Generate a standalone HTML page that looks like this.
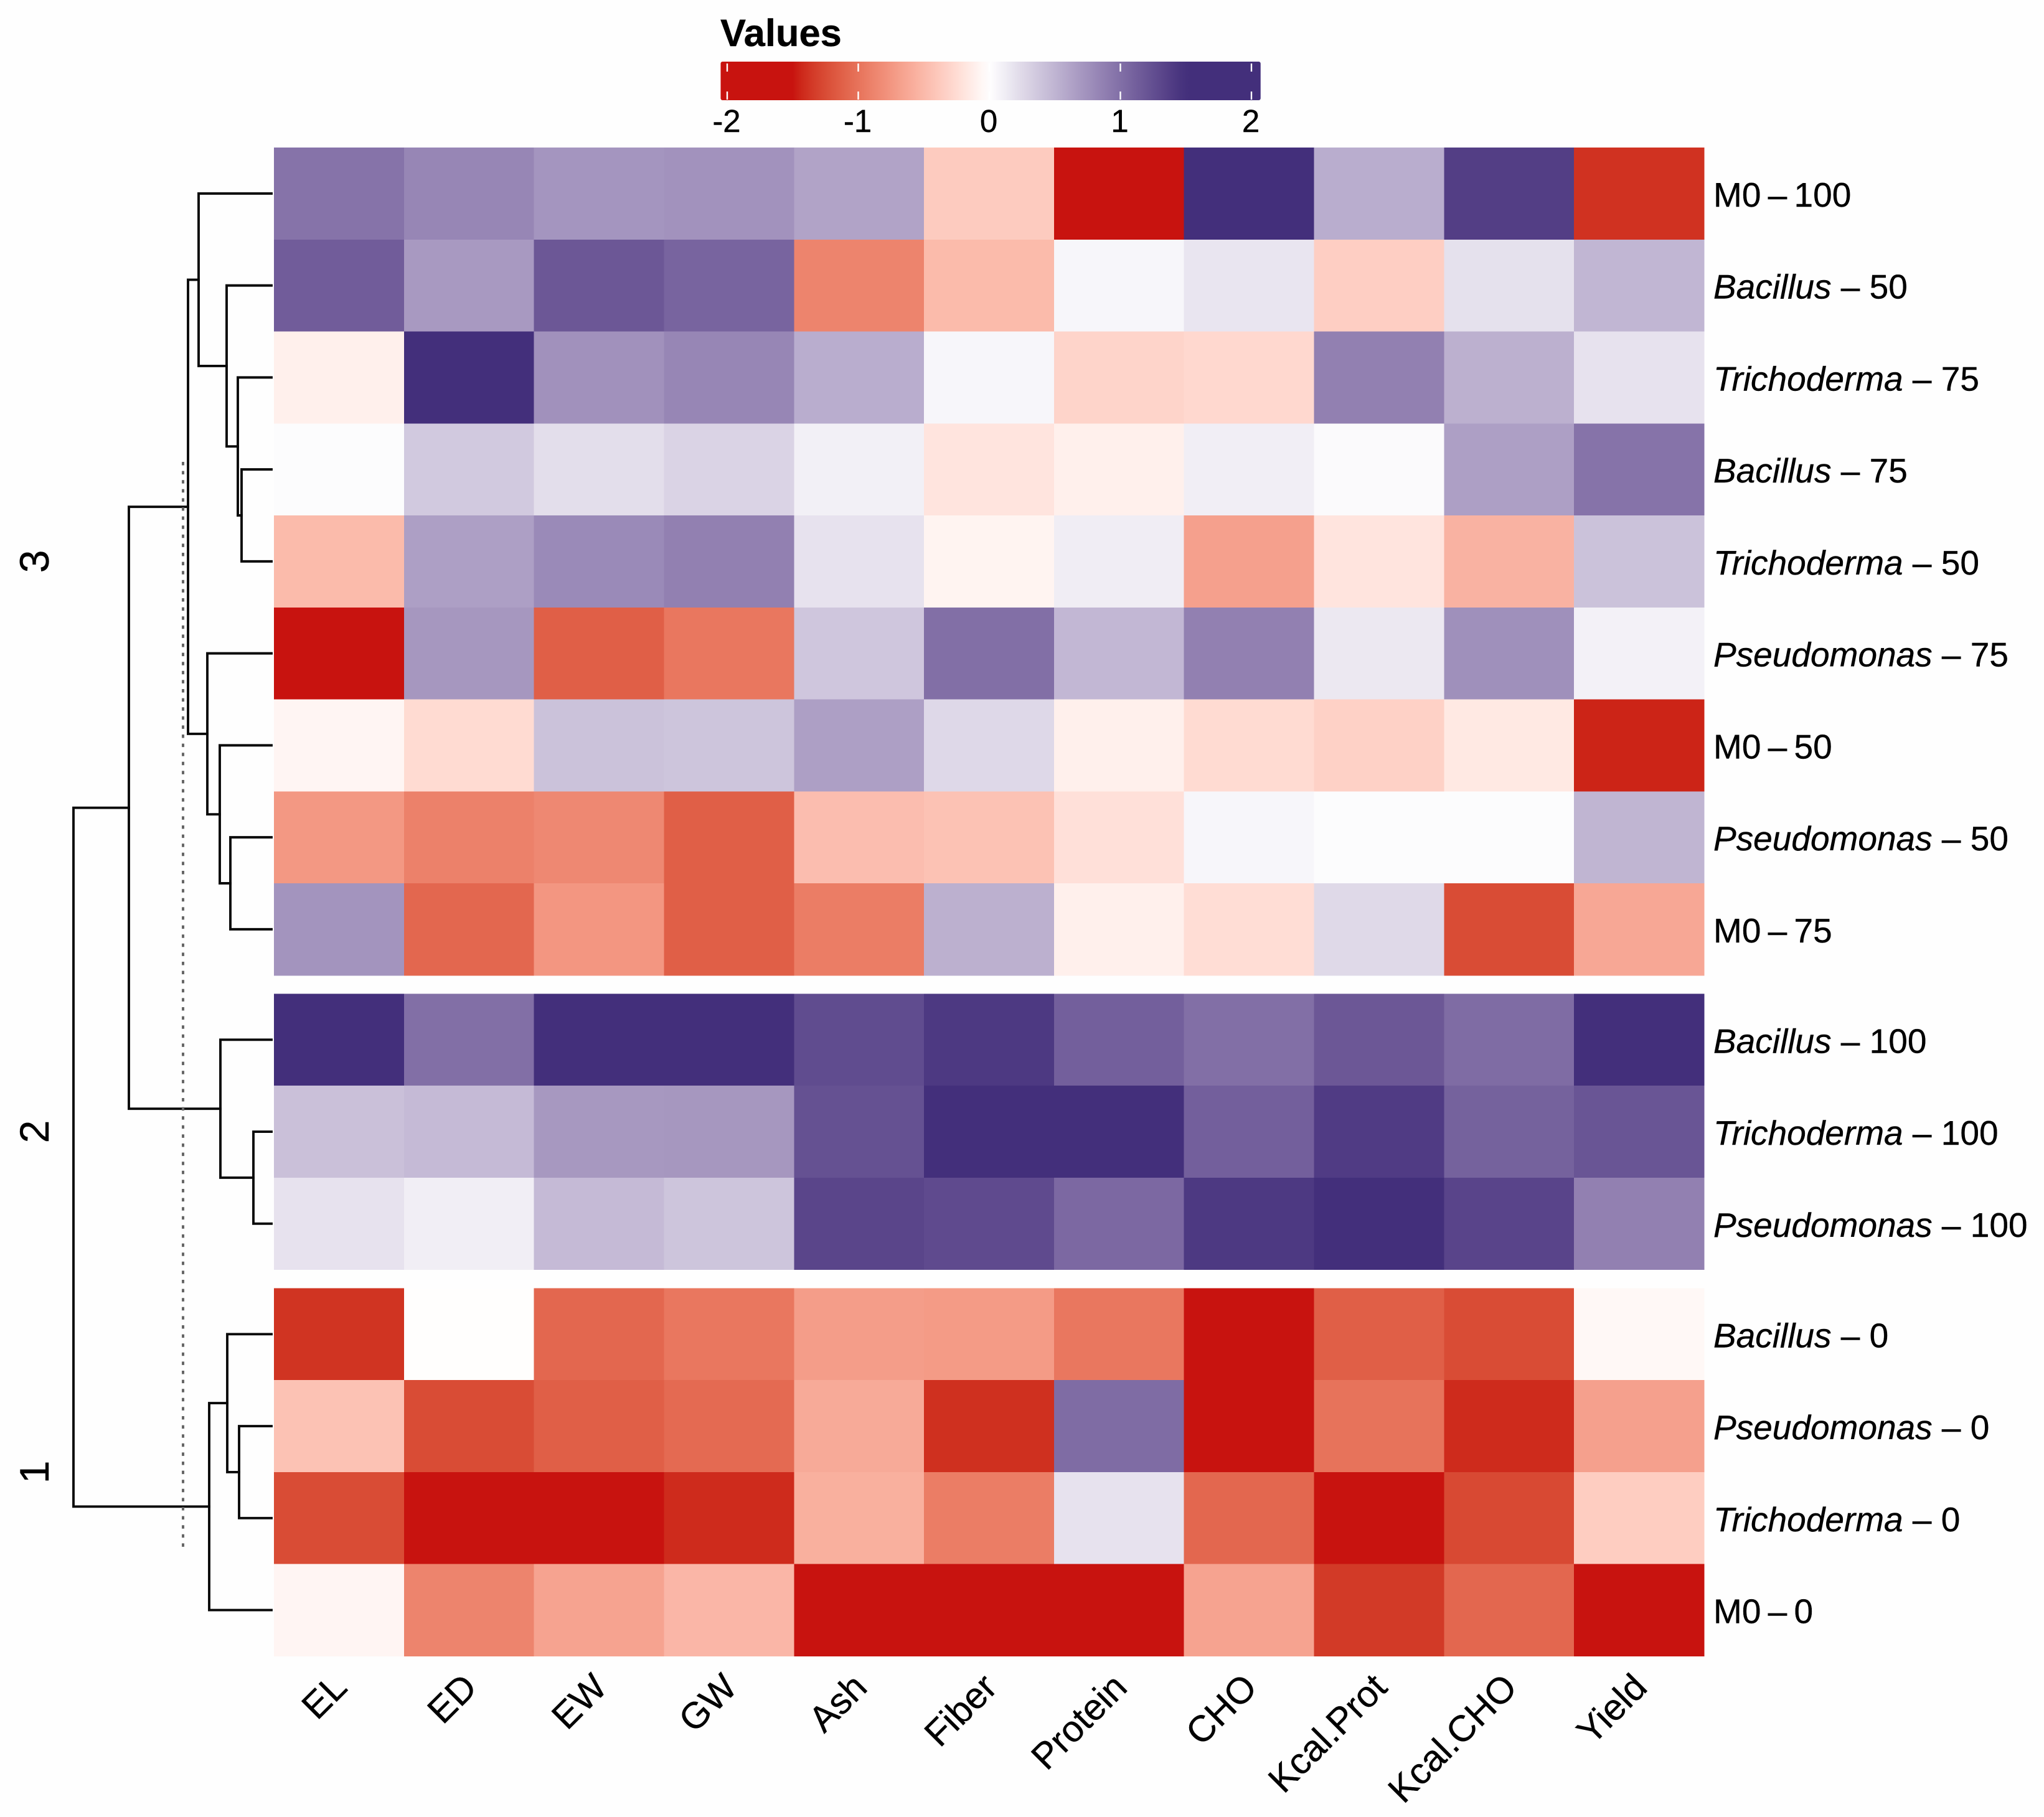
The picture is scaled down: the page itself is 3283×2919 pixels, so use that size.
<!DOCTYPE html>
<html lang="en">
<head>
<meta charset="utf-8">
<title>Clustered heatmap</title>
<style>
html,body{margin:0;padding:0;background:#fefefe;}
svg{display:block;font-family:"Liberation Sans",Arial,sans-serif;}
svg text{stroke:#000;stroke-width:0.4px;}
</style>
</head>
<body>
<svg id="chart" xmlns="http://www.w3.org/2000/svg" width="3283" height="2919" viewBox="0 0 3283 2919"></svg>
<script>
const columnNames = ["EL","ED","EW","GW","Ash","Fiber","Protein","CHO","Kcal.Prot","Kcal.CHO","Yield"];
const rowGenus = ["M0","Bacillus","Trichoderma","Bacillus","Trichoderma","Pseudomonas","M0","Pseudomonas","M0","Bacillus","Trichoderma","Pseudomonas","Bacillus","Pseudomonas","Trichoderma","M0"];
const rowLevel = ["100","50","75","75","50","75","50","50","75","100","100","100","0","0","0","0"];
const groupSizes = [9,3,4];
const groupNames = ["3","2","1"];
const legendTicks = [-2,-1,0,1,2];
const heatValues = [
 [0.97,0.83,0.72,0.74,0.62,-0.37,-1.6,1.7,0.55,1.38,-1.39],
 [1.14,0.69,1.18,1.08,-0.88,-0.49,0.06,0.17,-0.35,0.2,0.49],
 [-0.11,1.6,0.75,0.83,0.55,0.06,-0.31,-0.28,0.87,0.53,0.19],
 [0.02,0.36,0.22,0.29,0.1,-0.19,-0.11,0.11,0.03,0.65,0.97],
 [-0.49,0.65,0.8,0.87,0.19,-0.08,0.12,-0.68,-0.19,-0.55,0.41],
 [-1.5,0.71,-1.13,-0.97,0.38,1.0,0.48,0.87,0.15,0.76,0.09],
 [-0.07,-0.26,0.41,0.39,0.65,0.26,-0.11,-0.26,-0.33,-0.16,-1.45],
 [-0.74,-0.9,-0.85,-1.13,-0.47,-0.44,-0.22,0.06,0.02,0.02,0.5],
 [0.73,-1.08,-0.75,-1.13,-0.93,0.53,-0.11,-0.24,0.25,-1.25,-0.63],
 [1.6,1.0,1.6,1.6,1.27,1.42,1.12,1.0,1.18,1.02,1.6],
 [0.42,0.46,0.7,0.71,1.23,1.6,1.6,1.12,1.4,1.1,1.2],
 [0.19,0.11,0.46,0.39,1.32,1.28,1.05,1.42,1.55,1.33,0.87],
 [-1.38,-0.01,-1.08,-0.97,-0.7,-0.72,-0.97,-1.6,-1.13,-1.25,-0.05],
 [-0.44,-1.25,-1.13,-1.06,-0.61,-1.4,1.02,-1.6,-1.0,-1.42,-0.68],
 [-1.25,-1.6,-1.6,-1.42,-0.57,-0.93,0.19,-1.08,-1.55,-1.27,-0.36],
 [-0.07,-0.88,-0.66,-0.52,-1.6,-1.6,-1.6,-0.66,-1.35,-1.08,-1.55]
];
/* Dendrogram: [merge height, left child, right child]; a number is a row index. */
const dendrogramTree = [6.36,
  [4.58,
    [2.68,
      [2.34, 0, [1.44, 1, [1.08, 2, [0.96, 3, 4]]]],
      [2.06, 5, [1.66, 6, [1.32, 7, 8]]]
    ],
    [1.64, 9, [0.58, 10, 11]]
  ],
  [2.0, [1.42, 12, [1.04, 13, 14]], 15]
];
const cutHeight = [2.84];

const NS = "http://www.w3.org/2000/svg";
const svg = document.getElementById("chart");
function make(tag, attrs, parent) {
  const el = document.createElementNS(NS, tag);
  for (const k in attrs) el.setAttribute(k, attrs[k]);
  (parent || svg).appendChild(el);
  return el;
}

/* colour ramp: -1.5 red, 0 white, 1.5 purple, interpolated in LAB */
function rgb2lab(c) {
  const f = c.map(v => { v /= 255; return v > 0.04045 ? Math.pow((v + 0.055) / 1.055, 2.4) : v / 12.92; });
  const X = (0.4124 * f[0] + 0.3576 * f[1] + 0.1805 * f[2]) / 0.95047;
  const Y = 0.2126 * f[0] + 0.7152 * f[1] + 0.0722 * f[2];
  const Z = (0.0193 * f[0] + 0.1192 * f[1] + 0.9505 * f[2]) / 1.08883;
  const g = t => t > 0.008856 ? Math.cbrt(t) : 7.787 * t + 16 / 116;
  return [116 * g(Y) - 16, 500 * (g(X) - g(Y)), 200 * (g(Y) - g(Z))];
}
function lab2rgb(l) {
  const fy = (l[0] + 16) / 116, fx = l[1] / 500 + fy, fz = fy - l[2] / 200;
  const g = t => t * t * t > 0.008856 ? t * t * t : (t - 16 / 116) / 7.787;
  const X = g(fx) * 0.95047, Y = g(fy), Z = g(fz) * 1.08883;
  const lin = [3.2406 * X - 1.5372 * Y - 0.4986 * Z, -0.9689 * X + 1.8758 * Y + 0.0415 * Z, 0.0557 * X - 0.204 * Y + 1.057 * Z];
  return lin.map(v => {
    v = v > 0.0031308 ? 1.055 * Math.pow(v, 1 / 2.4) - 0.055 : 12.92 * v;
    return Math.round(Math.min(1, Math.max(0, v)) * 255);
  });
}
const LAB_RED = rgb2lab([200, 19, 15]), LAB_WHITE = rgb2lab([255, 255, 255]), LAB_PURPLE = rgb2lab([67, 47, 123]);
function colorOf(v) {
  const t = Math.min(1, Math.abs(v) / 1.5), end = v < 0 ? LAB_RED : LAB_PURPLE;
  const c = lab2rgb(LAB_WHITE.map((w, i) => w + (end[i] - w) * t));
  return "rgb(" + c.join(",") + ")";
}

/* axes */
const LEFT = 440, RIGHT = 2737, COLW = (RIGHT - LEFT) / columnNames.length;
const TOP = 237, ROWH = 147.75, GROUPGAP = 29.7;
function colX(i) { return LEFT + i * COLW; }
function groupOfRow(r) { let n = 0; for (let g = 0; g < groupSizes.length; g++) { n += groupSizes[g]; if (r < n) return g; } return groupSizes.length - 1; }
function rowY(r) { return TOP + r * ROWH + groupOfRow(r) * GROUPGAP; }
function dendroX(h) { return 436 - h * 50; }
function legendX(v) { return 1589 + v * 210.5; }

/* heatmap */
const heatGroup = make("g", {"shape-rendering": "crispEdges"});


heatValues.forEach((row, r) => row.forEach((v, c) => {
  const cell = make("rect", {x: colX(c), y: rowY(r), width: COLW + 0.5, height: ROWH + 0.5, fill: colorOf(v)}, heatGroup);
  
  
}));

/* row labels */
rowGenus.forEach((g, r) => {
  const t = make("text", {x: 2752, y: rowY(r) + ROWH / 2 + 21, "font-size": 55, fill: "#000", "word-spacing": g === "M0" ? -4 : 0});
  
  
  const a = make("tspan", {"font-style": g === "M0" ? "normal" : "italic"}, t);
  a.textContent = g;
  const b = make("tspan", {}, t);
  b.textContent = " \u2013 " + rowLevel[r];
});

/* column labels */
columnNames.forEach((n, c) => {
  const x = colX(c) + COLW / 2 + 16, y = 2714;
  const t = make("text", {x: x, y: y, "font-size": 59, "text-anchor": "end", transform: "rotate(-45 " + x + " " + y + ")", fill: "#000"});
  
  
  t.textContent = n;
});

/* group labels */
let startRow = 0;
groupSizes.forEach((s, g) => {
  const cy = (rowY(startRow) + rowY(startRow + s - 1) + ROWH) / 2;
  const t = make("text", {x: 78, y: cy, "font-size": 66, "text-anchor": "middle", transform: "rotate(-90 78 " + cy + ")", fill: "#000"});
  
  
  t.textContent = groupNames[g];
  startRow += s;
});

/* dendrogram */
const dendro = make("g", {fill: "none", stroke: "#0a0a0a", "stroke-width": 3.9, "stroke-linecap": "square"});


function drawNode(node) {
  if (typeof node === "number") return {x: dendroX(0), y: rowY(node) + ROWH / 2};
  const a = drawNode(node[1]), b = drawNode(node[2]), x = dendroX(node[0]);
  const p = make("path", {d: "M" + a.x + " " + a.y + "H" + x + "V" + b.y + "H" + b.x}, dendro);
  
  
  return {x: x, y: (a.y + b.y) / 2};
}
drawNode(dendrogramTree);
const cut = make("line", {x1: dendroX(cutHeight[0]), x2: dendroX(cutHeight[0]), y1: 742, y2: 2493, stroke: "#666", "stroke-width": 4, "stroke-dasharray": "5.5 9.1"});



/* legend */
const legend = make("g", {});


const title = make("text", {x: 1157, y: 74, "font-size": 61.5, "font-weight": "bold", fill: "#000"}, legend);


title.textContent = "Values";
const defs = make("defs", {}, legend);
const grad = make("linearGradient", {id: "legendGradient", x1: 0, x2: 1, y1: 0, y2: 0}, defs);
const LEG_MIN = -2.05, LEG_MAX = 2.07, STOPS = 60;
for (let i = 0; i <= STOPS; i++) {
  make("stop", {offset: i / STOPS, "stop-color": colorOf(LEG_MIN + (LEG_MAX - LEG_MIN) * i / STOPS)}, grad);
}
const bar = make("rect", {x: legendX(LEG_MIN), y: 99, width: legendX(LEG_MAX) - legendX(LEG_MIN), height: 62, rx: 3, fill: "url(#legendGradient)"}, legend);


legendTicks.forEach(v => {
  const x = legendX(v);
  [[102, 115], [147, 160]].forEach(s => {
    const tk = make("line", {x1: x, x2: x, y1: s[0], y2: s[1], stroke: "#fff", "stroke-width": 2.4}, legend);
    
    
  });
  const t = make("text", {x: x - 1, y: 212, "font-size": 51, "text-anchor": "middle", fill: "#000"}, legend);
  
  
  t.textContent = String(v);
});
</script>
</body>
</html>
